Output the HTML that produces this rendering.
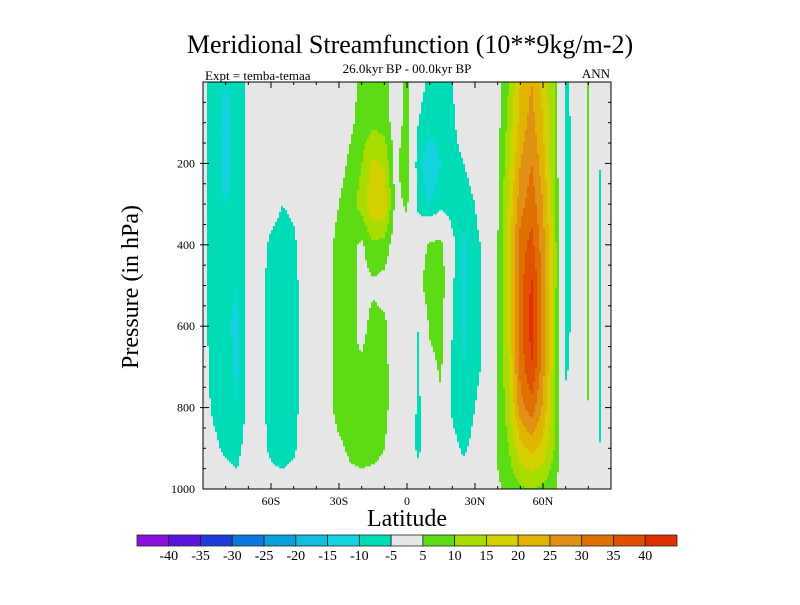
<!DOCTYPE html>
<html><head><meta charset="utf-8"><style>
body{margin:0;background:#fff;width:800px;height:600px;overflow:hidden}
svg text{font-family:"Liberation Serif",serif}
</style></head><body>
<svg id="chart" width="800" height="600" xmlns="http://www.w3.org/2000/svg">
<text x="410" y="53" text-anchor="middle" font-size="26">Meridional Streamfunction (10**9kg/m-2)</text>
<text x="407" y="73" text-anchor="middle" font-size="13">26.0kyr BP - 00.0kyr BP</text>
<text x="205" y="80" font-size="13">Expt = temba-temaa</text>
<text x="610" y="78" text-anchor="end" font-size="13">ANN</text>
<text transform="translate(138,287) rotate(-90)" text-anchor="middle" font-size="24">Pressure (in hPa)</text>
<text x="407" y="526" text-anchor="middle" font-size="24">Latitude</text>
<g id="field"></g>
<g id="axes"></g>
<g id="cbar"></g>
</svg>
<script>
const lats=[-90,-85,-80,-75,-70,-65,-60,-55,-50,-45,-40,-35,-30,-25,-20,-15,-10,-5,0,5,10,15,20,25,30,35,40,45,50,55,60,65,70,75,80,85,90];
const plevs=[0,100,200,300,400,500,600,700,800,900,1000];
const psi=[
[-3,-3,-3,-3,-3,-3,-3,-3,-3,-2,-1],
[-9,-9,-9,-9,-9,-8,-8,-7,-6,-4,-2],
[-10,-11,-11,-10,-9,-9,-9,-8,-7,-6,-2],
[-9,-9,-9,-9,-10,-10,-11,-11,-10,-7,-3],
[-3,-3,-3,-3,-3,-3,-3,-3,-3,-2,-1],
[-1,-1,-1,-2,-3,-3,-3,-3,-3,-3,-1],
[-2,-2,-2,-3,-6,-7,-7,-7,-7,-6,-3],
[-2,-2,-2,-5,-7,-8,-8,-8,-8,-7,-3],
[-2,-2,-2,-4,-6,-7,-7,-7,-7,-6,-2],
[-1,-1,-1,-1,-2,-2,-2,-2,-2,-2,-1],
[0,0,0,0,0,0,0,0,0,0,0],
[1,1,1,2,3,3,3,3,3,3,1],
[2,2,3,5,7,7,7,7,7,4,2],
[3,4,6,8,7,7,7,6,6,6,3],
[6,7,10,12,4,3,3,6,7,7,3],
[7,9,16,20,9,4,7,8,8,7,2],
[7,8,14,19,8,3,6,6,6,5,2],
[2,2,3,3,2,1,2,3,3,3,1],
[7,7,10,6,2,1,0,0,-1,-2,-1],
[-3,-5,-9,-7,1,3,-5,-6,-6,-6,-2],
[-6,-8,-14,-10,6,9,6,3,0,-1,0],
[-6,-7,-10,-7,7,9,7,6,4,2,0],
[-5,-6,-7,-8,-3,-4,-5,-6,-6,-3,-1],
[-2,-2,-5,-8,-11,-12,-11,-10,-9,-6,-1],
[-1,-1,-2,-5,-6,-6,-6,-6,-5,-3,0],
[2,2,1,-2,-4,-4,-4,-4,-3,-2,0],
[3,3,4,4,5,5,5,5,5,6,4],
[10,12,14,16,18,18,17,15,13,10,7],
[20,22,25,28,32,33,33,32,28,18,9],
[25,27,30,33,37,41,42,40,33,22,10],
[18,20,22,25,27,28,28,27,24,18,9],
[10,10,10,12,13,13,12,12,11,10,6],
[-6,-7,-7,-7,-7,-7,-7,-6,-3,-1,0],
[-2,-2,-2,-2,-2,-2,-2,-2,-1,-1,0],
[6,6,6,6,6,6,6,6,5,3,1],
[-2,-3,-5,-6,-6,-6,-6,-6,-6,-5,-2],
[0,0,0,0,0,0,0,0,0,0,0]];
const levels=[-40,-35,-30,-25,-20,-15,-10,-5,5,10,15,20,25,30,35,40];
const colors=["#8a10dc","#5a14dc","#1e3cd8","#0a78dc","#0aa0dc","#14bce0","#14d2e0","#00dcb8","#e6e6e6","#5cdc14","#a8dc00","#d4d000","#e0b400","#e09014","#e07000","#e05000","#e03000"];
const yTicks=[200,400,600,800,1000];
const xTickVals=[-60,-30,0,30,60];
const xTickLabels=["60S","30S","0","30N","60N"];
const cbLabels=["-40","-35","-30","-25","-20","-15","-10","-5","5","10","15","20","25","30","35","40"];

const X0=203,X1=611,Y0=82,Y1=489;
const sx=l=>X0+(l+90)/180*(X1-X0);
const sy=p=>Y0+p/1000*(Y1-Y0);
const NS="http://www.w3.org/2000/svg";
function mk(tag,attrs,parent){const e=document.createElementNS(NS,tag);for(const k in attrs)e.setAttribute(k,attrs[k]);parent.appendChild(e);return e;}
function val(lat,p){
  let i=Math.min(lats.length-2,Math.max(0,Math.floor((lat-lats[0])/5)));
  let fx=(lat-lats[i])/(lats[i+1]-lats[i]);fx=Math.max(0,Math.min(1,fx));
  let j=0;while(j<plevs.length-2&&p>plevs[j+1])j++;
  let fy=(p-plevs[j])/(plevs[j+1]-plevs[j]);fy=Math.max(0,Math.min(1,fy));
  const a=psi[i][j],b=psi[i+1][j],c=psi[i][j+1],d=psi[i+1][j+1];
  return a*(1-fx)*(1-fy)+b*fx*(1-fy)+c*(1-fx)*fy+d*fx*fy;
}
function colorIdx(v){let k=0;while(k<levels.length&&v>=levels[k])k++;return k;}
const field=document.getElementById('field');
mk('rect',{x:X0,y:Y0,width:X1-X0,height:Y1-Y0,fill:colors[8]},field);
const step=2;
for(let y=Y0;y<Y1;y+=step){
  let runStart=X0,runC=-1;
  for(let x=X0;x<=X1;x+=step){
    let c=-2;
    if(x<X1){const lat=(x+step/2-X0)/(X1-X0)*180-90;const p=(y+step/2-Y0)/(Y1-Y0)*1000;c=colorIdx(val(lat,p));}
    if(c!==runC){
      if(runC>=0&&runC!==8){
        const r=mk('rect',{x:runStart,y:y,width:Math.min(x,X1)-runStart,height:Math.min(step,Y1-y)+0.3,fill:colors[runC]},field);
        
        
      }
      runStart=x;runC=c;
    }
  }
}
const axes=document.getElementById('axes');
mk('rect',{x:X0,y:Y0,width:X1-X0,height:Y1-Y0,fill:"none",stroke:"#000","stroke-width":1},axes);
for(let p=50;p<1000;p+=50){
  const y=sy(p),maj=(p%200===0),L=maj?6:3;
  mk('line',{x1:maj?X0-3:X0,y1:y,x2:X0+L,y2:y,stroke:"#000"},axes);
  mk('line',{x1:X1,y1:y,x2:X1-L,y2:y,stroke:"#000"},axes);
}
for(let l=-80;l<=80;l+=10){
  const x=sx(l),L=(l%30===0)?6:3;
  mk('line',{x1:x,y1:Y1,x2:x,y2:Y1-L,stroke:"#000"},axes);
  mk('line',{x1:x,y1:Y0,x2:x,y2:Y0+L,stroke:"#000"},axes);
}
yTicks.forEach(p=>{
  const t=mk('text',{x:X0-8,y:sy(p)+4,"text-anchor":"end","font-size":12,"font-family":"Liberation Sans, sans-serif"},axes);
  t.textContent=p;
  
  
});
xTickVals.forEach((l,i)=>{
  const t=mk('text',{x:sx(l),y:505,"text-anchor":"middle","font-size":12,"font-family":"Liberation Sans, sans-serif"},axes);
  t.textContent=xTickLabels[i];
  
  
});
const cb=document.getElementById('cbar');
const CX0=137,CX1=677,CY=535,CH=11,bw=(CX1-CX0)/colors.length;
colors.forEach((c,i)=>{
  const r=mk('rect',{x:CX0+i*bw,y:CY,width:bw,height:CH,fill:c,stroke:"#222","stroke-width":0.8},cb);
  
  
});
cbLabels.forEach((s,i)=>{
  const t=mk('text',{x:CX0+(i+1)*bw,y:560,"text-anchor":"middle","font-size":14},cb);
  t.textContent=s;
  
  
});
</script>
</body></html>
